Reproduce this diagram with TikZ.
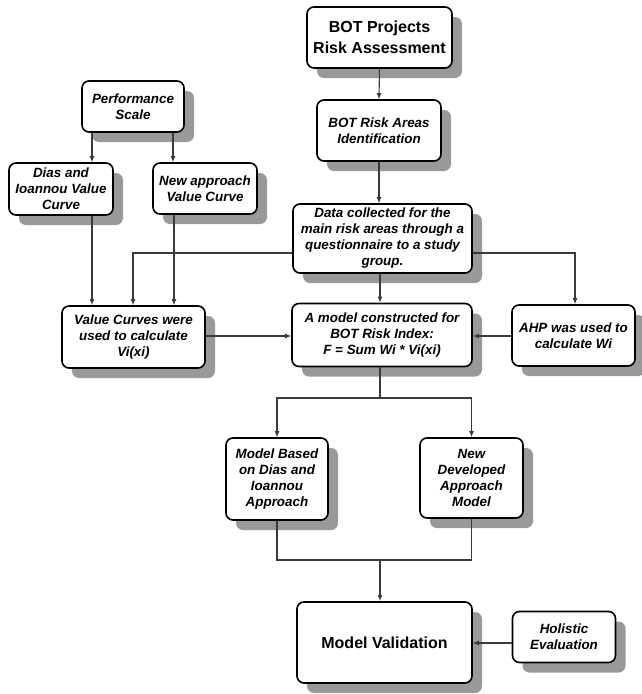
\documentclass[tikz,border=0pt]{standalone}
\usepackage{fontspec}
\setmainfont{Liberation Sans}
\usetikzlibrary{shadows,arrows.meta}
\definecolor{linec}{HTML}{3A3A3A}
\tikzset{
  box/.style={draw=black, line width=1.6pt, rounded corners=7pt, fill=white,
    align=center, inner sep=0pt,
    font=\bfseries\itshape\fontsize{13.4}{16}\selectfont,
    drop shadow={shadow xshift=10pt, shadow yshift=-10pt, fill=gray!80, opacity=1}},
  bigbox/.style={box, font=\bfseries\fontsize{16}{21.5}\selectfont},
  conn/.style={draw=linec, line width=1.1pt},
  arr/.style={conn, -{Latex[length=6pt,width=5pt]}}
}
\begin{document}
\begin{tikzpicture}[x=1pt,y=-1pt]
\useasboundingbox (0,0) rectangle (642,694);
\node[bigbox, minimum width=145pt, minimum height=61pt] (proj) at (379.5,37.5) {BOT Projects\\Risk Assessment};
\node[box, minimum width=124pt, minimum height=61pt] (ident) at (379,130.5) {BOT Risk Areas\\Identification};
\node[box, minimum width=102pt, minimum height=51pt] (perf) at (133,106.5) {Performance\\Scale};
\node[box, minimum width=104pt, minimum height=52pt] (dias) at (61,189) {Dias and\\Ioannou Value\\Curve};
\node[box, minimum width=104pt, minimum height=51pt] (newc) at (205,188.5) {New approach\\Value Curve};
\node[box, minimum width=179pt, minimum height=69pt] (data) at (382.5,238.5) {Data collected for the\\main risk areas through a\\questionnaire to a study\\group.};
\node[box, minimum width=143pt, minimum height=62pt] (vc) at (133.5,337) {Value Curves were\\used to calculate\\Vi(xi)};
\node[box, minimum width=180pt, minimum height=63pt] (model) at (382,335) {A model constructed for\\BOT Risk Index:\\F = Sum Wi * Vi(xi)};
\node[box, minimum width=123pt, minimum height=61pt] (ahp) at (573.5,335.5) {AHP was used to\\calculate Wi};
\node[box, minimum width=102pt, minimum height=82pt] (mbd) at (277,479) {Model Based\\on Dias and\\Ioannou\\Approach};
\node[box, minimum width=103pt, minimum height=80pt] (ndm) at (471.5,478) {New\\Developed\\Approach\\Model};
\node[bigbox, minimum width=175pt, minimum height=81pt] (mv) at (384.5,642.5) {Model Validation};
\node[box, minimum width=103pt, minimum height=51pt] (hol) at (564,637) {Holistic\\Evaluation};

\coordinate (c92) at (92,0);
\coordinate (c173) at (173,0);
\coordinate (c174) at (174,0);
\coordinate (c380) at (380,0);
\coordinate (r336) at (0,336);
\coordinate (r643) at (0,643);
\coordinate (dl) at (133,253);
\coordinate (dr) at (575,253);
\coordinate (mj) at (380,398);
\coordinate (vj) at (380,560);

\draw[arr] (proj.south) -- (ident.north);
\draw[arr] (ident.south) -- (data.north -| ident.south);
\draw[arr] (perf.south -| c92) -- (dias.north -| c92);
\draw[arr] (perf.south -| c173) -- (newc.north -| c173);
\draw[arr] (dias.south -| c92) -- (vc.north -| c92);
\draw[arr] (newc.south -| c174) -- (vc.north -| c174);
\draw[arr] (data.west |- dl) -- (dl) -- (vc.north -| dl);
\draw[arr] (data.east |- dr) -- (dr) -- (ahp.north -| dr);
\draw[arr] (data.south -| c380) -- (model.north -| c380);
\draw[arr] (vc.east |- r336) -- (model.west |- r336);
\draw[arr] (ahp.west |- r336) -- (model.east |- r336);
\draw[conn] (model.south -| mj) -- (mj);
\draw[arr] (mj) -| (mbd.north);
\draw[arr] (mj) -| (ndm.north);
\draw[conn] (mbd.south) |- (vj) -| (ndm.south);
\draw[arr] (vj) -- (mv.north -| vj);
\draw[arr] (hol.west |- r643) -- (mv.east |- r643);
\end{tikzpicture}
\end{document}
